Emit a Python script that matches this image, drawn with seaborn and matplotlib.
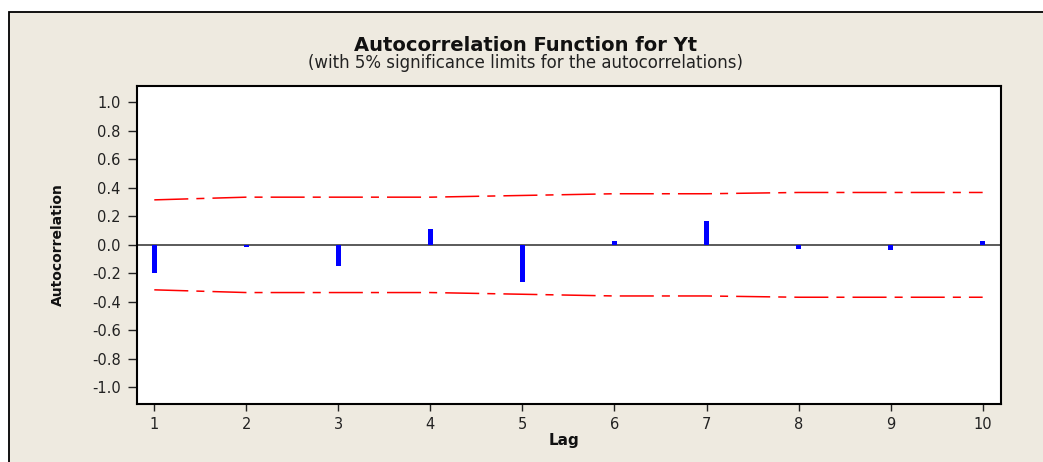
import numpy as np
import pandas as pd
import matplotlib
matplotlib.use("Agg")
import matplotlib.pyplot as plt
from matplotlib.patches import Rectangle
import seaborn as sns

# ---- data ----
lags = [1, 2, 3, 4, 5, 6, 7, 8, 9, 10]
acf = [-0.199, -0.012, -0.148, 0.113, -0.258, 0.028, 0.171, -0.030, -0.037, 0.028]
upper_limit = [0.316, 0.335, 0.335, 0.335, 0.347, 0.359, 0.359, 0.368, 0.368, 0.368]
lower_limit = [-0.316, -0.335, -0.335, -0.335, -0.347, -0.359, -0.359, -0.368, -0.368, -0.368]
ytick_values = [1.0, 0.8, 0.6, 0.4, 0.2, 0.0, -0.2, -0.4, -0.6, -0.8, -1.0]
ytick_labels = ["1.0", "0.8", "0.6", "0.4", "0.2", "0.0", "-0.2", "-0.4", "-0.6", "-0.8", "-1.0"]
xtick_labels = ["1", "2", "3", "4", "5", "6", "7", "8", "9", "10"]

title = "Autocorrelation Function for Yt"
subtitle = "(with 5% significance limits for the autocorrelations)"

sns.set_style("white")
plt.rcParams["font.family"] = ["DejaVu Sans"]
plt.rcParams["lines.scale_dashes"] = False

W, H = 1043, 462
fig = plt.figure(figsize=(W / 100, H / 100), dpi=100)
fig.patch.set_facecolor("white")

bg = "#EEEAE0"
fig.patches.append(Rectangle((9 / W, -0.02), 1.1, (H - 11.7) / H + 0.02,
                             transform=fig.transFigure, facecolor=bg,
                             edgecolor="black", linewidth=1.3, zorder=-10))

ax_left, ax_right = 136.7, 1000.7
ax_top, ax_bottom = 85.7, 404.3
ax = fig.add_axes([ax_left / W, 1 - ax_bottom / H,
                   (ax_right - ax_left) / W, (ax_bottom - ax_top) / H])
ax.set_zorder(1)
ax.set_facecolor("white")

df = pd.DataFrame({"Lag": lags, "ACF": acf})
ax.axhline(0, color="#5a5a5a", linewidth=1.4, zorder=1)
sns.barplot(data=df, x="Lag", y="ACF", native_scale=True, width=0.06,
            color="#0000FF", saturation=1, edgecolor="none", ax=ax, zorder=3)

lim_df = pd.DataFrame({"Lag": lags, "upper": upper_limit, "lower": lower_limit})
for col in ["upper", "lower"]:
    sns.lineplot(data=lim_df, x="Lag", y=col, color="#FF0000", linewidth=1.1, ax=ax)
    ax.lines[-1].set_dashes([24.5, 5.8, 5.8, 5.8])

ax.set_xlim(0.809, 10.196)
ax.set_ylim(-1.12, 1.118)
ax.set_xticks(lags)
ax.set_xticklabels(xtick_labels)
ax.set_yticks(ytick_values)
ax.set_yticklabels(ytick_labels)
ax.tick_params(axis="y", direction="out", length=6.5, width=1.0, color="#222222",
               labelsize=10.5, labelcolor="#222222", pad=5, left=True)
ax.tick_params(axis="x", direction="out", length=5, width=1.0, color="#222222",
               labelsize=10.5, labelcolor="#222222", pad=4, bottom=True)
for s in ax.spines.values():
    s.set_visible(True)
    s.set_color("black")
    s.set_linewidth(1.5)

ax.set_xlabel("Lag", fontsize=11, fontweight="bold", color="#111111")
ax.xaxis.set_label_coords((564 - ax_left) / (ax_right - ax_left),
                          -(441 - ax_bottom) / (ax_bottom - ax_top))
ax.xaxis.label.set_va("center")
ax.set_ylabel("Autocorrelation", fontsize=10, fontweight="bold", color="#111111")
ax.yaxis.set_label_coords(-(ax_left - 58) / (ax_right - ax_left), 0.5)
ax.yaxis.label.set_va("center")

fig.text(526 / W, 1 - 51 / H, title, ha="center", va="baseline",
         fontsize=14, fontweight="bold", color="#111111")
fig.text(526 / W, 1 - 68.5 / H, subtitle, ha="center", va="baseline",
         fontsize=12, color="#222222")

fig.savefig("out.png", dpi=100, facecolor=fig.get_facecolor())
